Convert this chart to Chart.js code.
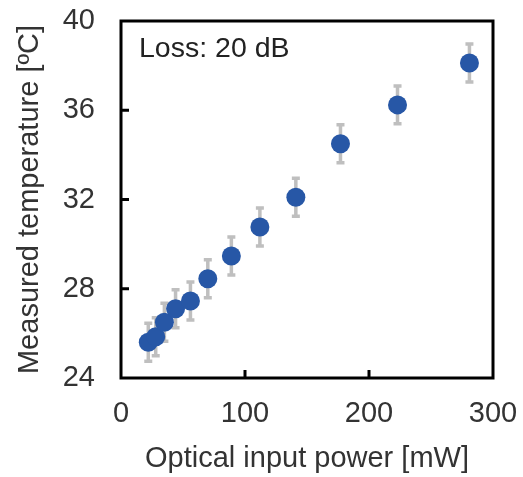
<!DOCTYPE html>
<html>
<head>
<meta charset="utf-8">
<script src="https://cdn.jsdelivr.net/npm/chart.js@4"></script>
<style>
  html, body { margin: 0; padding: 0; background: #fff; }
  #wrap { width: 523px; height: 477px; }
</style>
</head>
<body>
<div id="wrap"><canvas id="chart" width="523" height="477"></canvas></div>
<script>
// data
const powerMW = [22, 28, 35, 44, 56, 70, 89, 112, 141, 177, 223, 281];
const tempC = [25.6, 25.85, 26.5, 27.1, 27.45, 28.45, 29.47, 30.77, 32.1, 34.5, 36.24, 38.12];
const tempErr = [0.85, 0.85, 0.85, 0.85, 0.85, 0.85, 0.85, 0.85, 0.85, 0.85, 0.85, 0.85];
const xTicks = [0, 100, 200, 300];
const yTicks = [24, 28, 32, 36, 40];
const note = 'Loss: 20 dB';

const FONT = 'Arial, "Liberation Sans", sans-serif';
const textColor = '#333';

const errorBars = {
  id: 'errorBars',
  beforeDatasetsDraw(chart) {
    const { ctx, scales: { x, y } } = chart;
    ctx.save();
    ctx.strokeStyle = '#bfbfbf';
    ctx.lineWidth = 3.5;
    powerMW.forEach((p, i) => {
      const px = x.getPixelForValue(p);
      const top = y.getPixelForValue(tempC[i] + tempErr[i]);
      const bot = y.getPixelForValue(tempC[i] - tempErr[i]);
      ctx.beginPath();
      ctx.moveTo(px, top); ctx.lineTo(px, bot);
      ctx.moveTo(px - 4, top); ctx.lineTo(px + 4, top);
      ctx.moveTo(px - 4, bot); ctx.lineTo(px + 4, bot);
      ctx.stroke();
    });
    ctx.restore();
  }
};

// box, inward ticks and the loss note
const frame = {
  id: 'frame',
  afterDraw(chart) {
    const { ctx, chartArea: a, scales: { x, y } } = chart;
    ctx.save();
    ctx.strokeStyle = '#000';
    ctx.lineWidth = 3;
    ctx.strokeRect(a.left, a.top, a.right - a.left, a.bottom - a.top);
    ctx.beginPath();
    xTicks.slice(1, -1).forEach(v => {
      const px = x.getPixelForValue(v);
      ctx.moveTo(px, a.bottom); ctx.lineTo(px, a.bottom - 8);
    });
    yTicks.slice(1, -1).forEach(v => {
      const py = y.getPixelForValue(v);
      ctx.moveTo(a.left, py); ctx.lineTo(a.left + 8, py);
    });
    ctx.stroke();
    ctx.fillStyle = '#222';
    ctx.font = '28.5px ' + FONT;
    ctx.textBaseline = 'alphabetic';
    ctx.fillText(note, a.left + 18, a.top + 36);
    ctx.restore();
  }
};

new Chart(document.getElementById('chart'), {
  type: 'scatter',
  data: {
    datasets: [{
      data: powerMW.map((p, i) => ({ x: p, y: tempC[i] })),
      backgroundColor: '#2757a6',
      borderColor: '#2757a6',
      pointRadius: 9.5,
      pointHoverRadius: 9.5,
      borderWidth: 0
    }]
  },
  options: {
    responsive: false,
    animation: false,
    layout: { padding: { top: 21, right: 30, left: 0, bottom: 0 } },
    plugins: { legend: { display: false }, tooltip: { enabled: false } },
    scales: {
      x: {
        type: 'linear', min: 0, max: 300,
        afterFit: s => { s.height = 99; s.paddingLeft = 0; s.paddingRight = 0; },
        afterBuildTicks: s => { s.ticks = xTicks.map(v => ({ value: v })); },
        grid: { display: false },
        border: { display: false },
        ticks: { color: textColor, font: { size: 29, family: FONT }, padding: 11, maxRotation: 0 },
        title: { display: true, text: 'Optical input power [mW]', color: textColor,
                 font: { size: 29, family: FONT }, padding: { top: 0, bottom: 1 } }
      },
      y: {
        type: 'linear', min: 24, max: 40,
        afterFit: s => { s.width = 121; s.paddingTop = 0; s.paddingBottom = 0; },
        afterBuildTicks: s => { s.ticks = yTicks.map(v => ({ value: v })); },
        grid: { display: false },
        border: { display: false },
        ticks: { color: textColor, font: { size: 29, family: FONT }, padding: 18 },
        title: { display: true, text: 'Measured temperature [ºC]', color: textColor,
                 font: { size: 29, family: FONT }, padding: { top: 13, bottom: 0 } }
      }
    }
  },
  plugins: [errorBars, frame]
});
</script>
</body>
</html>
